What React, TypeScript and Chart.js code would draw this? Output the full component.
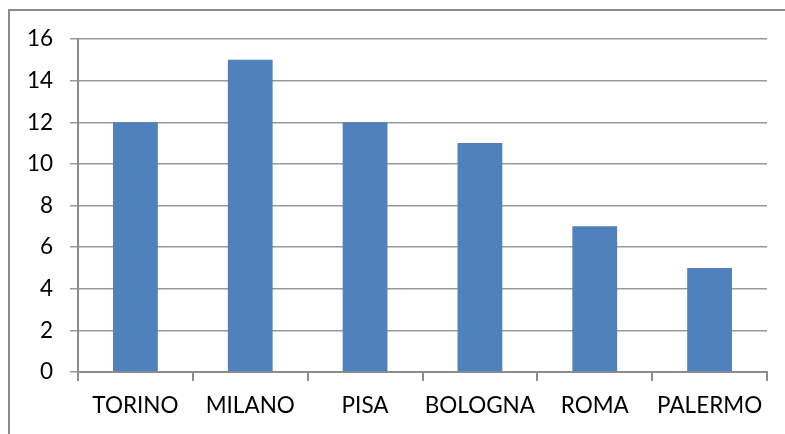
import React, { useEffect, useRef } from "react";
import { Chart, registerables } from "chart.js";

Chart.register(...registerables);

const categories = ["TORINO", "MILANO", "PISA", "BOLOGNA", "ROMA", "PALERMO"];
const values = [12, 15, 12, 11, 7, 5];
const yMin = 0;
const yMax = 16;
const yStep = 2;

const FONT = "Lato, 'Open Sans', sans-serif";

const borderPlugin = {
  id: "outerBorder",
  beforeDraw(chart: any) {
    const ctx = chart.ctx;
    ctx.save();
    ctx.strokeStyle = "#8c8c8c";
    ctx.lineWidth = 2;
    ctx.strokeRect(9, 10, 900, 600);
    ctx.restore();
  },
};

export default function App() {
  const ref = useRef<HTMLCanvasElement>(null);
  useEffect(() => {
    const chart = new Chart(ref.current!, {
      type: "bar",
      data: {
        labels: categories,
        datasets: [
          {
            data: values,
            backgroundColor: "#4F81BD",
            borderWidth: 0,
            categoryPercentage: 1,
            barPercentage: 0.39,
          },
        ],
      },
      plugins: [borderPlugin],
      options: {
        animation: false,
        responsive: false,
        maintainAspectRatio: false,
        layout: { padding: { left: 0, top: 39, right: 18, bottom: 0 } },
        plugins: { legend: { display: false }, tooltip: { enabled: false } },
        scales: {
          x: {
            grid: {
              offset: true,
              drawOnChartArea: false,
              drawTicks: true,
              tickLength: 9,
              color: "#8c8c8c",
              lineWidth: 2,
            },
            border: { display: true, color: "#8c8c8c", width: 2 },
            ticks: {
              color: "#000",
              font: { family: FONT, size: 22.5 },
              padding: 11,
              maxRotation: 0,
              autoSkip: false,
            },
            afterFit(scale: any) {
              scale.height = 434 - 372;
            },
          },
          y: {
            min: yMin,
            max: yMax,
            grid: {
              color: "#999",
              lineWidth: 1.5,
              drawTicks: true,
              tickLength: 8,
            },
            border: { display: true, color: "#8c8c8c", width: 2 },
            ticks: {
              stepSize: yStep,
              color: "#000",
              font: { family: FONT, size: 22.5 },
              padding: 17,
            },
            afterFit(scale: any) {
              scale.width = 78;
            },
          },
        },
      },
    });
    return () => chart.destroy();
  }, []);
  return (
    <div style={{ position: "fixed", left: 0, top: 0, width: 785, height: 434, background: "#fff" }}>
      <canvas ref={ref} width={785} height={434} style={{ display: "block" }} />
    </div>
  );
}
